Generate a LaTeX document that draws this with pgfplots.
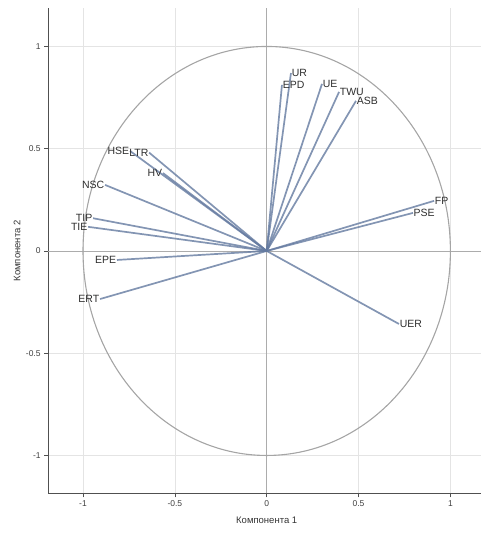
\documentclass[border=0pt]{standalone}
\usepackage{pgfplots}
\pgfplotsset{compat=1.18}
\usepackage{fontspec}
\setmainfont{Liberation Sans}
\definecolor{ln}{RGB}{100,122,160}
\definecolor{gridc}{RGB}{228,228,228}
\definecolor{zeroc}{RGB}{172,172,172}
\definecolor{circc}{RGB}{165,165,165}
\definecolor{spine}{RGB}{80,80,80}
\newcommand{\ld}[4]{%
  \addplot[ln, line width=1.7pt, opacity=0.8] coordinates {(0,0) (#1,#2)};
  \node[anchor=#4, inner sep=0.6pt, font=\fontsize{10.5}{12}\selectfont, text=black!82] at (axis cs:#1,#2) {#3};
}
\begin{document}
\begin{tikzpicture}
\useasboundingbox (0,0) rectangle (481pt,537pt);
\begin{axis}[
  at={(48.1pt,43.7pt)}, anchor=south west,
  x=183.7pt, y=204.5pt,
  xmin=-1.19, xmax=1.165, ymin=-1.185, ymax=1.19,
  axis x line*=bottom, axis y line*=left,
  axis line style={spine, line width=0.9pt, -},
  xtick={-1,-0.5,0,0.5,1}, xticklabels={-1,-0.5,0,0.5,1},
  ytick={-1,-0.5,0,0.5,1}, yticklabels={-1,-0.5,0,0.5,1},
  tick align=outside, major tick length=4pt,
  tick style={spine, line width=0.7pt},
  grid=major, major grid style={gridc, line width=0.7pt},
  ticklabel style={font=\fontsize{8.5}{10}\selectfont, text=black!75},
  clip=false,
]
\draw[zeroc, line width=0.9pt] (axis cs:0,-1.185) -- (axis cs:0,1.19);
\draw[zeroc, line width=0.9pt] (axis cs:-1.19,0) -- (axis cs:1.165,0);
\draw[circc, line width=1.1pt] (axis cs:0,0) ellipse [x radius=1, y radius=1];
\ld{0.132}{0.870}{UR}{west}
\ld{0.083}{0.812}{EPD}{west}
\ld{0.301}{0.817}{UE}{west}
\ld{0.394}{0.778}{TWU}{west}
\ld{0.486}{0.734}{ASB}{west}
\ld{-0.744}{0.489}{HSE}{east}
\ld{-0.640}{0.481}{LTR}{east}
\ld{-0.565}{0.381}{HV}{east}
\ld{-0.880}{0.323}{NSC}{east}
\ld{-0.945}{0.160}{TIP}{east}
\ld{-0.972}{0.118}{TIE}{east}
\ld{-0.815}{-0.044}{EPE}{east}
\ld{-0.907}{-0.235}{ERT}{east}
\ld{0.911}{0.245}{FP}{west}
\ld{0.796}{0.186}{PSE}{west}
\ld{0.720}{-0.357}{UER}{west}
\node[font=\fontsize{9.5}{11}\selectfont, text=black!80] at (axis cs:0,-1.185) [yshift=-27pt] {Компонента 1};
\end{axis}
\node[rotate=90, font=\fontsize{9.5}{11}\selectfont, text=black!80] at (17pt,286pt) {Компонента 2};
\end{tikzpicture}
\end{document}
